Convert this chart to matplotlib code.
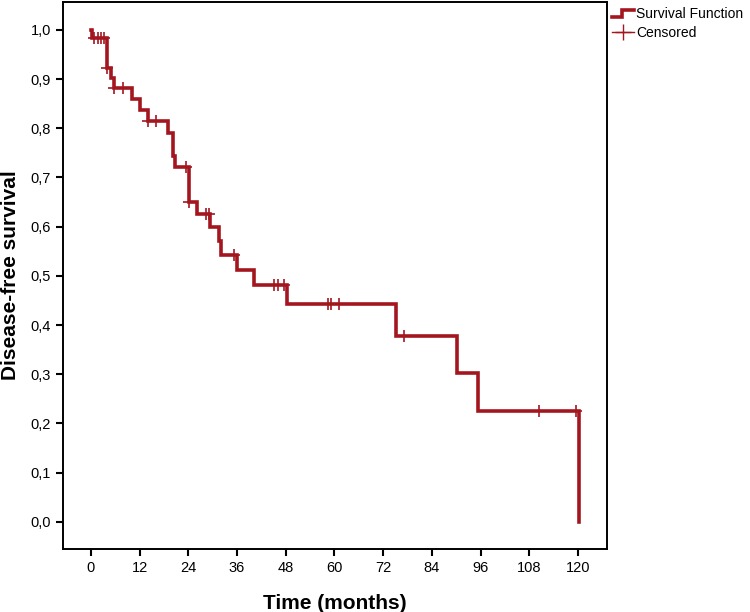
import matplotlib

matplotlib.use("Agg")
import matplotlib.pyplot as plt
import numpy as np
from matplotlib.legend_handler import HandlerBase
from matplotlib.lines import Line2D

# Kaplan-Meier steps (time in months, survival after step)
event_times = [0.0, 0.3, 4.0, 4.9, 5.7, 10.1, 12.0, 14.0, 18.9, 20.2, 20.7,
               24.1, 26.1, 29.3, 31.5, 32.0, 36.1, 40.1, 48.2, 75.2, 90.2,
               95.4, 120.2]
surv_values = [1.0, 0.984, 0.923, 0.902, 0.882, 0.860, 0.837, 0.815, 0.791,
               0.744, 0.722, 0.650, 0.626, 0.600, 0.571, 0.543, 0.512, 0.482,
               0.443, 0.378, 0.303, 0.226, 0.0]
censored_times = [0.7, 1.7, 2.5, 3.2, 4.0, 5.7, 7.9, 14.0, 16.0, 23.4, 24.1,
                  28.3, 29.0, 35.2, 45.2, 46.2, 47.5, 58.5, 59.2, 61.2, 77.2,
                  110.4, 119.5]
x_ticks = [0, 12, 24, 36, 48, 60, 72, 84, 96, 108, 120]
y_ticks = [0.0, 0.1, 0.2, 0.3, 0.4, 0.5, 0.6, 0.7, 0.8, 0.9, 1.0]

RED = "#a3161f"
plt.rcParams["font.family"] = ["Liberation Sans", "DejaVu Sans"]


class StepHandler(HandlerBase):
    def create_artists(self, legend, orig_handle, xdescent, ydescent,
                       width, height, fontsize, trans):
        xs = np.array([0.0, 0.45, 0.45, 1.0]) * width - xdescent
        ys = np.array([0.15, 0.15, 0.85, 0.85]) * height - ydescent
        ln = Line2D(xs, ys, color=RED, lw=2.6, solid_joinstyle="miter",
                    transform=trans)
        return [ln]


def censored_level(t):
    idx = np.searchsorted(event_times, t, side="right") - 1
    return surv_values[idx]


fig = plt.figure(figsize=(7.5, 6.12), dpi=100)
ax = fig.add_axes([0.084, 0.103, 0.725, 0.894])

ax.step(event_times, surv_values, where="post", color=RED, lw=2.6,
        solid_joinstyle="miter")
cens_levels = [censored_level(t) for t in censored_times]
ax.plot(censored_times, cens_levels, linestyle="none", marker="+", ms=9,
        mew=1.2, color=RED)

ax.set_xlim(-6.9, 127.1)
ax.set_ylim(-0.055, 1.057)
ax.set_xticks(x_ticks)
ax.set_yticks(y_ticks)
ax.set_yticklabels([f"{v:.1f}".replace(".", ",") for v in y_ticks])
ax.tick_params(direction="out", length=5, width=1.5, labelsize=10.5,
               colors="black")
for sp in ax.spines.values():
    sp.set_linewidth(1.4)

ax.set_xlabel("Time (months)", fontsize=15, fontweight="bold", labelpad=14)
ax.set_ylabel("Disease-free survival", fontsize=15, fontweight="bold",
              labelpad=8)

surv_handle = Line2D([], [], color=RED)
cens_handle = Line2D([], [], color=RED, lw=1.0, marker="+", ms=11, mew=1.0)
fig.legend([surv_handle, cens_handle], ["Survival Function", "Censored"],
           handler_map={surv_handle: StepHandler()},
           loc="upper left", bbox_to_anchor=(0.812, 0.993), frameon=False,
           fontsize=10, handlelength=1.6, handletextpad=0.15,
           labelspacing=0.35, borderaxespad=0.0, borderpad=0.2)

fig.savefig("out.png", dpi=100)
